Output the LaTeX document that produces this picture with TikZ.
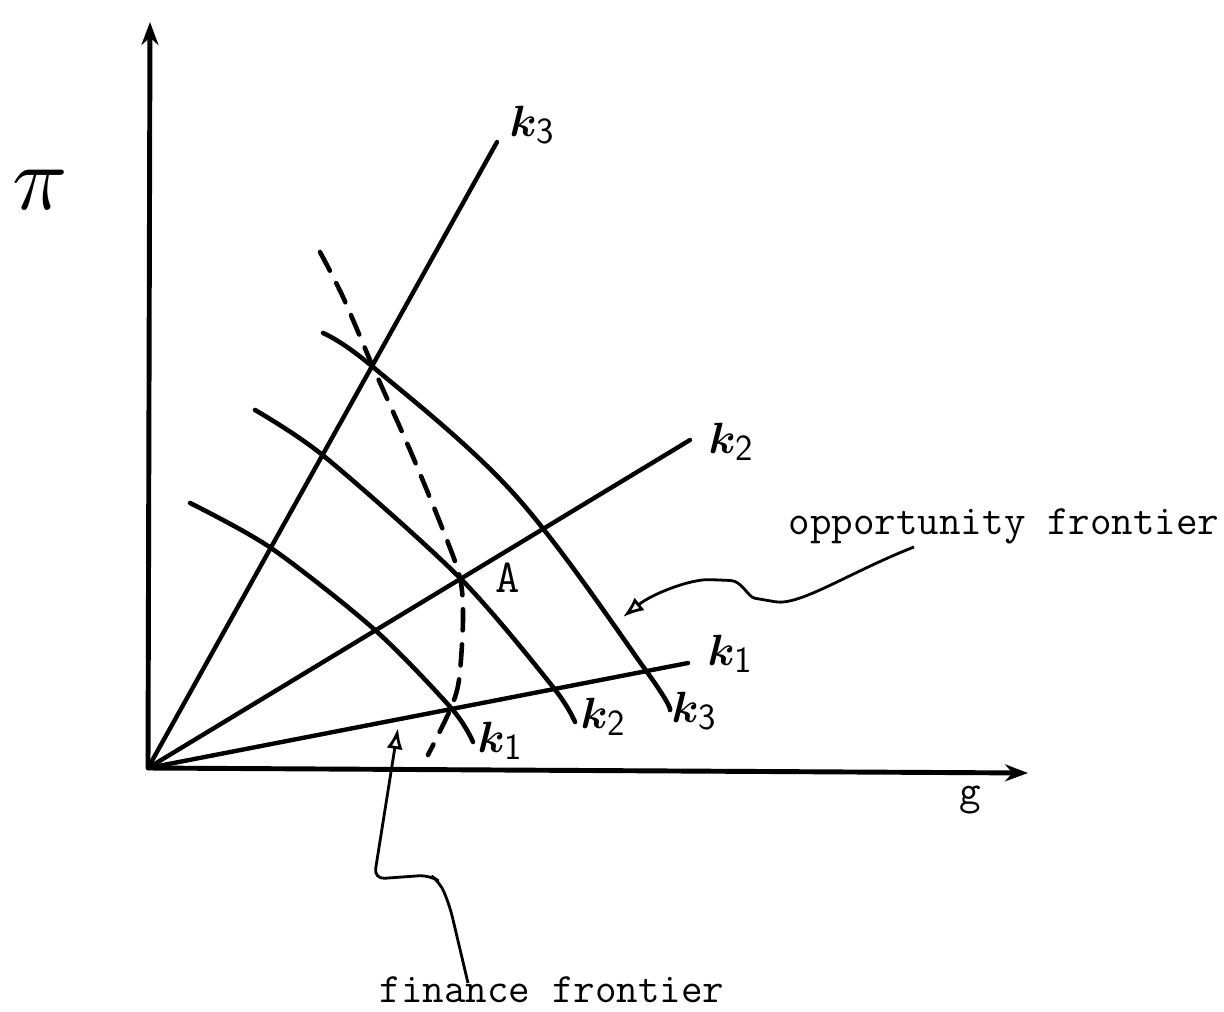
\documentclass[tikz,border=0pt]{standalone}
\usepackage{graphicx}
\usepackage{amsmath,amssymb,bm}
\usetikzlibrary{arrows.meta,positioning,calc}
\tikzset{
  >={Stealth[length=4.6mm,width=3.4mm]},
  % achsen und strahlen
  axis/.style={->,line width=2.8pt},
  ray/.style={line width=2.5pt,line cap=round},
  opp/.style={line width=2.6pt,line cap=round},
  fin/.style={line width=2.6pt,line cap=round,dash pattern=on 12pt off 8pt},
  % beschriftung
  note/.style={-{Latex[open,length=4.2mm,width=3.2mm]},line width=1.6pt,rounded corners=6pt},
  klab/.style={inner sep=0pt,font=\fontsize{27}{27}\selectfont},
  tw/.style={inner sep=0pt,font=\ttfamily\fontsize{23.8}{25}\selectfont},
}
\newcommand{\kk}[1]{$\boldsymbol{k}$\raisebox{-0.35ex}{\fontsize{21}{21}\sffamily #1}}

\begin{document}
\begin{tikzpicture}[x=0.02cm,y=-0.02cm]
\useasboundingbox (0,0) rectangle (1224,1011);
  \coordinate (O) at (148,768);
  \coordinate (ytop) at (150,22);
  \coordinate (xend) at (1028,773);
  \coordinate (r1) at (688,663);
  \coordinate (r2) at (690,440);
  \coordinate (r3) at (497,142);
  \draw[axis] (O) -- (ytop);
  \draw[axis] (O) -- (xend);
  \node[inner sep=0pt] (pi) at (40,190) {\scalebox{5.2}{$\pi$}};
  \node[tw] (g) at (970,800) {g};
  % strahlen k1, k2, k3
  \draw[ray] (O) -- (r1);
  \draw[ray] (O) -- (r2);
  \draw[ray] (O) -- (r3);
  \node[klab] (lr1) at (730,654) {\kk{1}};
  \node[klab] (lr2) at (731,442) {\kk{2}};
  \node[klab] (lr3) at (532,125) {\kk{3}};
  % opportunity frontiers
  \draw[opp] plot[smooth] coordinates {(190,503) (271,548) (375,630) (452,709) (473,742)};
  \draw[opp] plot[smooth] coordinates {(255,410) (325,457) (460,578) (553,687) (575,722)};
  \draw[opp] plot[smooth,tension=0.6] coordinates {(323,333) (373,367) (515,495) (647,672) (670,710)};
  \node[klab] (lc1) at (500,741) {\kk{1}};
  \node[klab] (lc2) at (603,717) {\kk{2}};
  \node[klab] (lc3) at (694,711) {\kk{3}};
  % finance frontier
  \draw[fin] plot[smooth] coordinates {(320,252) (343,297) (373,367) (410,450) (443,530)
    (460,578) (463,620) (459,680) (450,710) (428,755)};
  \node[inner sep=0pt,font=\ttfamily\fontsize{27}{28}\selectfont] (A) at (508,578) {A};
  % beschriftungen
  \node[tw] (oppt) at (1004,526) {opportunity frontier};
  \node[tw] (fint) at (552,990) {finance frontier};
  \coordinate (oa) at (914,547);
  \coordinate (oat) at (623,617);
  \draw[note] (oa) .. controls (850,572) and (800,606) .. (765,600)
    .. controls (748,597) and (742,581) .. (720,580)
    .. controls (690,579) and (652,594) .. (oat);
  \coordinate (fa) at (468,983);
  \coordinate (fat) at (398,728);
  \draw[note] (fa) -- (450,907) -- (440,882) -- (430,875) -- (374,879) -- (fat);
\end{tikzpicture}
\end{document}
